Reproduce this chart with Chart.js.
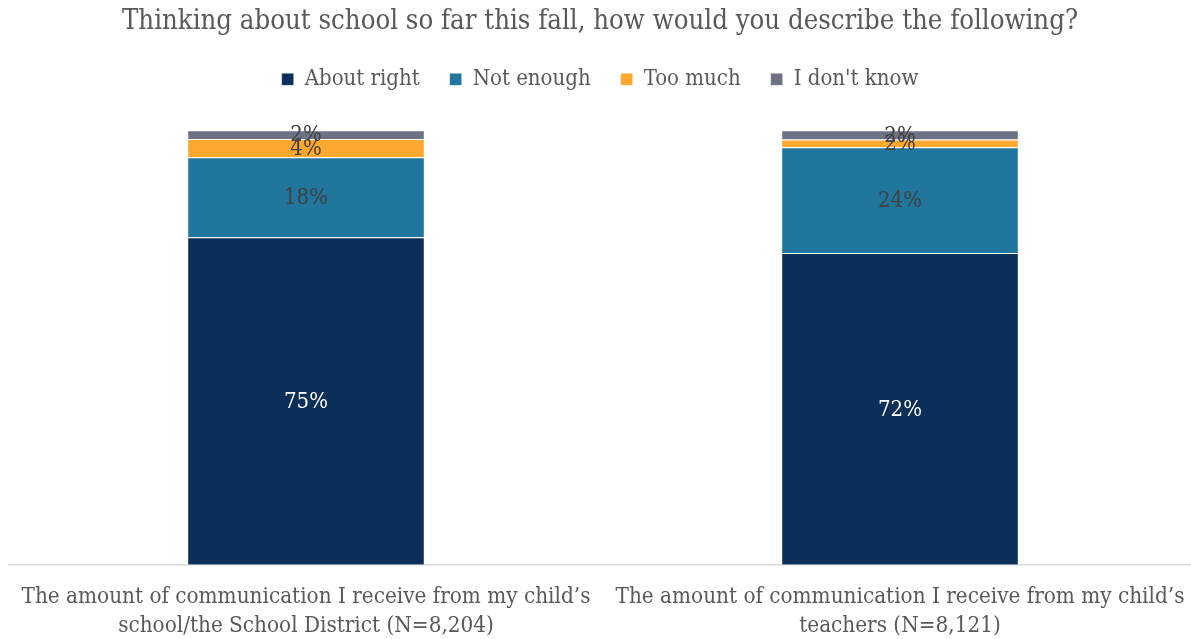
<!DOCTYPE html>
<html><head><meta charset="utf-8">
<script src="https://cdn.jsdelivr.net/npm/chart.js@4"></script>
<style>html,body{margin:0;padding:0;background:#fff}#wrap{width:1191px;height:639px}</style>
</head><body><div id="wrap"><canvas id="c" width="1191" height="639"></canvas></div>
<script>
const categories = [
  ["The amount of communication I receive from my child\u2019s", "school/the School District (N=8,204)"],
  ["The amount of communication I receive from my child\u2019s", "teachers (N=8,121)"]
];
const seriesNames = ["About right", "Not enough", "Too much", "I don't know"];
const aboutRight = [75.4, 71.8];
const notEnough = [18.4, 24.3];
const tooMuch = [4.2, 1.8];
const dontKnow = [2.0, 2.1];
const colors = ["#0c2f5a", "#21769d", "#fea82f", "#6e7184"];
const labelColors = ["#ffffff", "#404040", "#404040", "#404040"];
const FONT = "'DejaVu Serif Condensed', 'DejaVu Serif', serif";

const labelPlugin = {
  id: 'barLabels',
  afterDatasetsDraw(chart) {
    const ctx = chart.ctx;
    ctx.save();
    ctx.font = "22px " + FONT;
    ctx.textAlign = 'center';
    ctx.textBaseline = 'middle';
    chart.data.datasets.forEach((ds, i) => {
      const meta = chart.getDatasetMeta(i);
      meta.data.forEach((bar, j) => {
        const v = ds.data[j];
        const y = (bar.y + bar.base) / 2 + 1;
        ctx.fillStyle = labelColors[i];
        ctx.fillText(Math.round(v) + '%', bar.x, y);
      });
    });
    ctx.restore();
  }
};

const layoutTweak = {
  id: 'layoutTweak',
  beforeLayout(chart) {
    const lg = chart.legend;
    if (lg && !lg._spacerPatched) {
      const f = lg.fit;
      lg.fit = function () { f.call(this); this.height += 30; };
      lg._spacerPatched = true;
    }
  },
  afterLayout(chart) {
    const x = chart.scales.x;
    const r = 1197;
    x.right = r;
    x.width = r - x.left;
    chart.chartArea.right = r;
    chart.chartArea.width = r - chart.chartArea.left;
    x.configure();
  }
};

const allSeries = [aboutRight, notEnough, tooMuch, dontKnow];
new Chart(document.getElementById('c'), {
  type: 'bar',
  data: {
    labels: categories,
    datasets: allSeries.map((d, i) => ({
      label: seriesNames[i],
      data: d,
      backgroundColor: colors[i],
      borderColor: 'rgba(255,255,255,0.35)',
      borderWidth: 1,
      categoryPercentage: 1.0,
      barPercentage: 0.4
    }))
  },
  options: {
    responsive: false,
    animation: false,
    layout: { padding: { left: 9, right: 0, top: 0, bottom: 0 } },
    plugins: {
      title: {
        display: true,
        text: "Thinking about school so far this fall, how would you describe the following?",
        color: '#595959',
        font: { family: FONT, size: 27.3, weight: 'normal' },
        padding: { top: 6, bottom: -0.4 }
      },
      legend: {
        display: true,
        labels: {
          color: '#595959',
          font: { family: FONT, size: 22 },
          boxWidth: 12, boxHeight: 12,
          padding: 30
        }
      },
      tooltip: { enabled: false }
    },
    scales: {
      x: {
        stacked: true,
        grid: { display: false },
        border: { display: true, color: '#d9d9d9', width: 1.5 },
        ticks: { color: '#595959', font: { family: FONT, size: 22.3, lineHeight: 1.27 }, maxRotation: 0, autoSkip: false, padding: 10.5 },
        afterFit(scale) { scale.height -= 11.5; }
      },
      y: {
        stacked: true,
        display: false,
        min: 0, max: 100
      }
    }
  },
  plugins: [labelPlugin, layoutTweak]
});
</script></body></html>
